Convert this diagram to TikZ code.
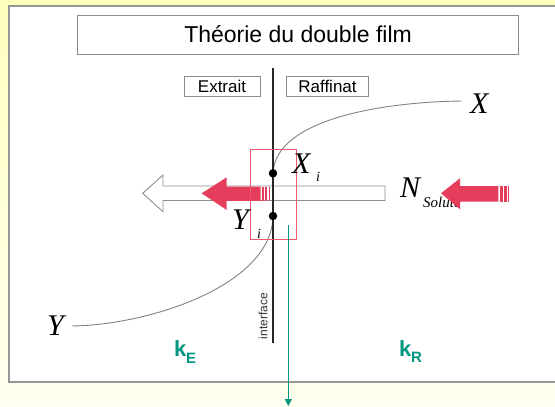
\documentclass[tikz,border=0pt]{standalone}
\usepackage{fontspec}
\setmainfont{Liberation Sans}
\newfontfamily\tms{Liberation Serif}
\usetikzlibrary{arrows.meta}
\definecolor{bgtop}{RGB}{255,255,190}
\definecolor{bgbot}{RGB}{255,255,240}
\definecolor{panelline}{RGB}{150,150,150}
\definecolor{boxline}{RGB}{140,140,140}
\definecolor{redfill}{RGB}{228,62,92}
\definecolor{redline}{RGB}{232,88,112}
\definecolor{tealc}{RGB}{0,150,130}
\definecolor{curvec}{RGB}{130,130,130}
\tikzset{
  labelbox/.style={draw=boxline, line width=0.9pt, fill=white, inner sep=0pt},
  mathlab/.style={inner sep=0pt, anchor=base west, font=\tms\itshape\fontsize{30}{32}\selectfont},
  sublab/.style={inner sep=0pt, anchor=base west, font=\tms\itshape\fontsize{14}{16}\selectfont},
  klab/.style={inner sep=0pt, anchor=base west, text=tealc, font=\bfseries\fontsize{22}{24}\selectfont},
  ksub/.style={inner sep=0pt, anchor=base west, text=tealc, font=\bfseries\fontsize{15}{17}\selectfont},
  dotnode/.style={circle, fill=black, inner sep=0pt, minimum size=8.5pt},
  redarrow/.style={fill=redfill, draw=none},
  hollowarrow/.style={draw=curvec!90, fill=white, line width=0.9pt, line join=miter},
}
\begin{document}
\begin{tikzpicture}[x=1pt,y=-1pt]
\useasboundingbox (0,0) rectangle (555,407);
\shade[top color=bgtop, bottom color=bgbot] (0,0) rectangle (555,407);
% panel
\draw[panelline, line width=1.6pt, fill=white] (9,6) rectangle (570,382);
% title
\node[labelbox, minimum width=441pt, minimum height=39pt, font=\fontsize{23}{26}\selectfont] (title) at (298.1,34.5) {Théorie du double film};
% phase labels
\node[labelbox, minimum width=76pt, minimum height=20pt, font=\fontsize{17}{19}\selectfont] (extrait) at (222,86.7) {Extrait};
\node[labelbox, minimum width=81.6pt, minimum height=20pt, font=\fontsize{17}{19}\selectfont] (raffinat) at (327.5,86.7) {Raffinat};
% interface points
\coordinate (itop) at (273,68);
\coordinate (ibot) at (273,343);
\coordinate (xi) at (273,173.3);
\coordinate (yi) at (273,216);
% curve
\draw[curvec, line width=0.9pt] (72,326) .. controls (150,325) and (272,285) .. (yi) -- (xi) .. controls (275,120) and (380,102) .. (462,101);
% hollow arrow
\draw[hollowarrow] (163,186) -- (385,186) -- (385,200.5) -- (163,200.5) -- (163,211.7) -- (142.7,193.3) -- (163,175) -- cycle;
% interface line
\draw[black!85, line width=2.6pt] (itop) -- (ibot);
\node[inner sep=0pt, rotate=90, font=\fontsize{12}{13}\selectfont, text=black!80] (iface) at (263,316) {interface};
% left red arrow
\fill[redarrow] (201.7,193.3) -- (226.7,177.3) -- (226.7,186.5) -- (260.7,186.5) -- (260.7,200.8) -- (226.7,200.8) -- (226.7,210) -- cycle;
\fill[redarrow] (262,186.5) rectangle (264.3,200.8);
\fill[redarrow] (265.4,186.5) rectangle (267.4,200.8);
\fill[redarrow] (268.5,186.5) rectangle (270.2,200.8);
% N solute label (behind right arrow)
\node[mathlab] (nlab) at (400,197) {N};
\node[sublab, font=\tms\itshape\fontsize{15}{16}\selectfont] (nsub) at (423,207.5) {Soluté};
% right red arrow
\fill[redarrow] (441,193.3) -- (460,178.3) -- (460,186) -- (498.3,186) -- (498.3,201.7) -- (460,201.7) -- (460,209.3) -- cycle;
\fill[redarrow] (500,186) rectangle (503.3,201.7);
\fill[redarrow] (504.4,186) rectangle (506.7,201.7);
\fill[redarrow] (507.8,186) rectangle (509.4,201.7);
% dots
\node[dotnode] (xidot) at (xi) {};
\node[dotnode] (yidot) at (yi) {};
% red rectangle
\draw[redline, line width=1pt] (250.7,149.3) rectangle (296,239.3);
% labels
\node[mathlab] (xlab) at (470,113) {X};
\node[mathlab] (ylab) at (47,335) {Y};
\node[mathlab] (xilab) at (292,173) {X};
\node[sublab] (xisub) at (316,181) {i};
\node[mathlab] (yilab) at (232,229) {Y};
\node[sublab] (yisub) at (257,238) {i};
\node[klab] (ke) at (174,356) {k};
\node[ksub] (kesub) at (186,363) {E};
\node[klab] (kr) at (399,356) {k};
\node[ksub] (krsub) at (411,362.5) {R};
% teal arrow
\coordinate (ttop) at (288.3,225);
\coordinate (tbot) at (288.3,406);
\draw[tealc, line width=1pt, -{Triangle[width=7pt,length=7pt]}] (ttop) -- (tbot);
\end{tikzpicture}
\end{document}
